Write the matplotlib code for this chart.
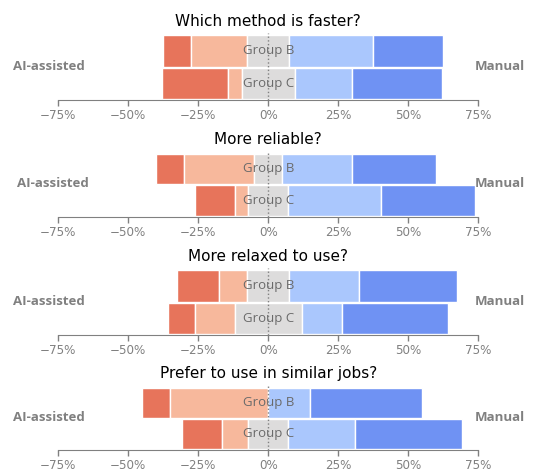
import matplotlib
matplotlib.use("Agg")
import matplotlib.pyplot as plt
import seaborn as sns

questions = ["Which method is faster?", "More reliable?",
             "More relaxed to use?", "Prefer to use in similar jobs?"]
groups = ["Group B", "Group C"]

# Likert shares (%), from "strongly AI-assisted" to "strongly manual"
strong_ai_b = [10, 10, 15, 10]
ai_b = [20, 25, 10, 35]
neutral_b = [15, 10, 15, 0]
manual_b = [30, 25, 25, 15]
strong_manual_b = [25, 30, 35, 40]

strong_ai_c = [23.8, 14.3, 9.5, 14.3]
ai_c = [4.8, 4.8, 14.3, 9.5]
neutral_c = [19.0, 14.3, 23.8, 14.3]
manual_c = [20.5, 33.3, 14.3, 23.8]
strong_manual_c = [31.9, 33.3, 38.1, 38.1]

ticks = [-75, -50, -25, 0, 25, 50, 75]
tick_labels = ["\u221275%", "\u221250%", "\u221225%", "0%", "25%", "50%", "75%"]

colors = sns.color_palette("coolwarm", 5)[::-1]

fig = plt.figure(figsize=(5.37, 4.71), dpi=100)
W, H = 537, 471
# (top px, bottom px) of each panel
panels = [(32.5, 99.9), (150.8, 216.8), (267.5, 334.9), (385, 450)]
left_label_x = [84.8, 88.9, 84.8, 84.8]
x0, x1 = 58.2, 478.2

for i, q in enumerate(questions):
    top, bot = panels[i]
    ax = fig.add_axes([x0 / W, 1 - bot / H, (x1 - x0) / W, (bot - top) / H])
    rows = [
        [strong_ai_b[i], ai_b[i], neutral_b[i], manual_b[i], strong_manual_b[i]],
        [strong_ai_c[i], ai_c[i], neutral_c[i], manual_c[i], strong_manual_c[i]],
    ]
    for j, vals in enumerate(rows):
        start = -(vals[0] + vals[1] + vals[2] / 2)
        for k, v in enumerate(vals):
            if v > 0:
                ax.barh(j, v, left=start, height=0.97, color=colors[k],
                        edgecolor="white", linewidth=1, zorder=2)
            start += v
        ax.text(0, j, groups[j], ha="center", va="center", fontsize=9.5,
                family="Open Sans", color="#6a6a6a", zorder=3)
    ax.axvline(0, color="gray", linestyle=":", linewidth=1, zorder=4)
    ax.set_xlim(-75, 75)
    ax.set_ylim(1.523, -0.576)
    ax.set_yticks([])
    ax.set_xticks(ticks)
    ax.set_xticklabels(tick_labels)
    ax.tick_params(axis="x", colors="gray", labelsize=8.6, length=4, width=1,
                   pad=2.5)
    for s in ["top", "left", "right"]:
        ax.spines[s].set_visible(False)
    ax.spines["bottom"].set_color("gray")
    ax.set_title(q, fontsize=11, pad=5)

    yc = 1 - (top + bot) / 2 / H
    fig.text(left_label_x[i] / W, yc, "AI-assisted", ha="right", va="center",
             fontsize=9.5, fontweight="bold", family="Open Sans", color="gray")
    fig.text(499.9 / W, yc, "Manual", ha="center", va="center",
             fontsize=9.5, fontweight="bold", family="Open Sans", color="gray")

fig.savefig("out.png", dpi=100)
